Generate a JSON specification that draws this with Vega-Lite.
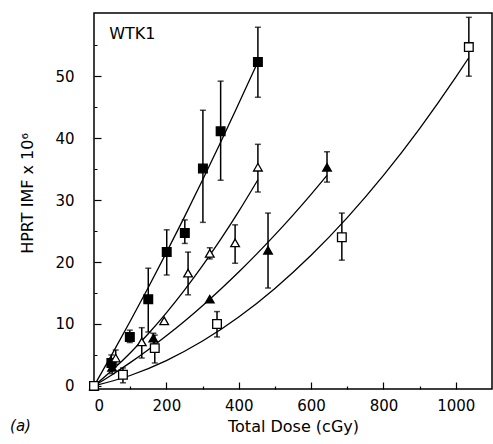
{
  "$schema": "https://vega.github.io/schema/vega-lite/v6.json",
  "width": 398,
  "height": 376,
  "autosize": "none",
  "padding": {"left": 94, "top": 13, "right": 1, "bottom": 55},
  "background": "white",
  "config": {
    "view": {"stroke": "black", "strokeWidth": 1.5},
    "font": "DejaVu Sans",
    "axis": {"grid": false, "domain": false, "labelFont": "DejaVu Sans", "labelFontSize": 15, "labelColor": "black", "tickColor": "black", "tickWidth": 1.2, "titleFont": "DejaVu Sans", "titleFontSize": 16, "titleFontWeight": "normal", "titleColor": "black"}
  },
  "data": {
    "values": [
      {"set": "obs", "series": "fs", "dose": 0, "imf": 0},
      {"set": "obs", "series": "fs", "dose": 48, "imf": 3.7, "lo": 2.5, "hi": 5.0},
      {"set": "obs", "series": "fs", "dose": 99, "imf": 7.9, "lo": 7.0, "hi": 9.0},
      {"set": "obs", "series": "fs", "dose": 150, "imf": 14.0, "lo": 8.7, "hi": 19.0},
      {"set": "obs", "series": "fs", "dose": 201, "imf": 21.6, "lo": 17.9, "hi": 25.2},
      {"set": "obs", "series": "fs", "dose": 251, "imf": 24.7, "lo": 23.0, "hi": 26.8},
      {"set": "obs", "series": "fs", "dose": 301, "imf": 35.1, "lo": 26.4, "hi": 44.5},
      {"set": "obs", "series": "fs", "dose": 350, "imf": 41.1, "lo": 33.2, "hi": 49.2},
      {"set": "obs", "series": "fs", "dose": 453, "imf": 52.3, "lo": 46.6, "hi": 57.9},
      {"set": "obs", "series": "ot", "dose": 0, "imf": 0},
      {"set": "obs", "series": "ot", "dose": 60, "imf": 4.5, "lo": 3.5, "hi": 5.8},
      {"set": "obs", "series": "ot", "dose": 132, "imf": 7.1, "lo": 4.5, "hi": 9.4},
      {"set": "obs", "series": "ot", "dose": 194, "imf": 10.5},
      {"set": "obs", "series": "ot", "dose": 260, "imf": 18.2, "lo": 14.7, "hi": 21.6},
      {"set": "obs", "series": "ot", "dose": 320, "imf": 21.4, "lo": 20.5, "hi": 22.3},
      {"set": "obs", "series": "ot", "dose": 390, "imf": 23.1, "lo": 19.8, "hi": 26.0},
      {"set": "obs", "series": "ot", "dose": 453, "imf": 35.3, "lo": 31.3, "hi": 39.0},
      {"set": "obs", "series": "ft", "dose": 0, "imf": 0},
      {"set": "obs", "series": "ft", "dose": 50, "imf": 3.0, "lo": 2.0, "hi": 4.0},
      {"set": "obs", "series": "ft", "dose": 164, "imf": 7.7, "lo": 6.5, "hi": 8.5},
      {"set": "obs", "series": "ft", "dose": 320, "imf": 14.0},
      {"set": "obs", "series": "ft", "dose": 481, "imf": 21.9, "lo": 15.8, "hi": 27.9},
      {"set": "obs", "series": "ft", "dose": 644, "imf": 35.3, "lo": 32.9, "hi": 37.8},
      {"set": "obs", "series": "os", "dose": 0, "imf": 0},
      {"set": "obs", "series": "os", "dose": 80, "imf": 1.8, "lo": 0.5, "hi": 2.9},
      {"set": "obs", "series": "os", "dose": 168, "imf": 6.1, "lo": 3.7, "hi": 8.2},
      {"set": "obs", "series": "os", "dose": 340, "imf": 10.0, "lo": 7.9, "hi": 12.0},
      {"set": "obs", "series": "os", "dose": 685, "imf": 24.0, "lo": 20.3, "hi": 27.9},
      {"set": "obs", "series": "os", "dose": 1036, "imf": 54.7, "lo": 50.0, "hi": 59.5},
      {"set": "fit", "series": "fs", "dose": 0, "imf": 0},
      {"set": "fit", "series": "fs", "dose": 50, "imf": 5.14},
      {"set": "fit", "series": "fs", "dose": 100, "imf": 10.43},
      {"set": "fit", "series": "fs", "dose": 150, "imf": 15.89},
      {"set": "fit", "series": "fs", "dose": 200, "imf": 21.51},
      {"set": "fit", "series": "fs", "dose": 250, "imf": 27.29},
      {"set": "fit", "series": "fs", "dose": 300, "imf": 33.23},
      {"set": "fit", "series": "fs", "dose": 350, "imf": 39.33},
      {"set": "fit", "series": "fs", "dose": 400, "imf": 45.59},
      {"set": "fit", "series": "fs", "dose": 453, "imf": 52.3},
      {"set": "fit", "series": "ot", "dose": 0, "imf": 0},
      {"set": "fit", "series": "ot", "dose": 50, "imf": 2.52},
      {"set": "fit", "series": "ot", "dose": 100, "imf": 5.32},
      {"set": "fit", "series": "ot", "dose": 150, "imf": 8.41},
      {"set": "fit", "series": "ot", "dose": 200, "imf": 11.79},
      {"set": "fit", "series": "ot", "dose": 250, "imf": 15.46},
      {"set": "fit", "series": "ot", "dose": 300, "imf": 19.41},
      {"set": "fit", "series": "ot", "dose": 350, "imf": 23.64},
      {"set": "fit", "series": "ot", "dose": 400, "imf": 28.17},
      {"set": "fit", "series": "ot", "dose": 453, "imf": 33.28},
      {"set": "fit", "series": "ft", "dose": 0, "imf": 0},
      {"set": "fit", "series": "ft", "dose": 50, "imf": 1.81},
      {"set": "fit", "series": "ft", "dose": 100, "imf": 3.76},
      {"set": "fit", "series": "ft", "dose": 150, "imf": 5.85},
      {"set": "fit", "series": "ft", "dose": 200, "imf": 8.08},
      {"set": "fit", "series": "ft", "dose": 250, "imf": 10.44},
      {"set": "fit", "series": "ft", "dose": 300, "imf": 12.95},
      {"set": "fit", "series": "ft", "dose": 350, "imf": 15.6},
      {"set": "fit", "series": "ft", "dose": 400, "imf": 18.38},
      {"set": "fit", "series": "ft", "dose": 450, "imf": 21.31},
      {"set": "fit", "series": "ft", "dose": 500, "imf": 24.38},
      {"set": "fit", "series": "ft", "dose": 550, "imf": 27.58},
      {"set": "fit", "series": "ft", "dose": 600, "imf": 30.92},
      {"set": "fit", "series": "ft", "dose": 644, "imf": 33.98},
      {"set": "fit", "series": "os", "dose": 0, "imf": 0},
      {"set": "fit", "series": "os", "dose": 100, "imf": 1.68},
      {"set": "fit", "series": "os", "dose": 200, "imf": 4.09},
      {"set": "fit", "series": "os", "dose": 300, "imf": 7.24},
      {"set": "fit", "series": "os", "dose": 400, "imf": 11.12},
      {"set": "fit", "series": "os", "dose": 500, "imf": 15.74},
      {"set": "fit", "series": "os", "dose": 600, "imf": 21.09},
      {"set": "fit", "series": "os", "dose": 700, "imf": 27.17},
      {"set": "fit", "series": "os", "dose": 800, "imf": 33.99},
      {"set": "fit", "series": "os", "dose": 900, "imf": 41.55},
      {"set": "fit", "series": "os", "dose": 1000, "imf": 49.84},
      {"set": "fit", "series": "os", "dose": 1036, "imf": 53.0},
      {"set": "label", "text": "WTK1", "dose": 42, "imf": 56.8},
      {"set": "label2", "text": "(a)", "dose": -232, "imf": -6.4}
    ]
  },
  "encoding": {
    "x": {
      "field": "dose", "type": "quantitative",
      "scale": {"domain": [0, 1100], "nice": false, "zero": false},
      "axis": {
        "title": "Total Dose (cGy)",
        "values": [0, 100, 200, 300, 400, 500, 600, 700, 800, 900, 1000],
        "format": "d",
        "labelExpr": "datum.value % 200 == 0 ? datum.label : ''",
        "offset": -7,
        "tickSize": 7,
        "tickDash": {"condition": {"test": "datum.value % 200 == 0", "value": [7, 0]}, "value": [0, 4, 3, 0]},
        "labelPadding": 9,
        "titlePadding": 5
      }
    },
    "y": {
      "field": "imf", "type": "quantitative",
      "scale": {"domain": [-0.5, 60.2], "nice": false, "zero": false},
      "axis": {
        "title": "HPRT IMF x 10⁶",
        "values": [0, 5, 10, 15, 20, 25, 30, 35, 40, 45, 50, 55],
        "labelExpr": "datum.value % 10 == 0 ? datum.label : ''",
        "offset": -7,
        "tickSize": 7,
        "tickDash": {"condition": {"test": "datum.value % 10 == 0", "value": [7, 0]}, "value": [0, 4, 3, 0]},
        "labelPadding": 20,
        "titleX": -74,
        "titleY": 180,
        "titleAngle": 270,
        "titleAlign": "center",
        "titleBaseline": "middle"
      }
    }
  },
  "layer": [
    {
      "transform": [{"filter": "datum.set == 'fit'"}],
      "mark": {"type": "line", "color": "black", "strokeWidth": 1.3, "interpolate": "monotone", "clip": false},
      "encoding": {"detail": {"field": "series"}}
    },
    {
      "transform": [{"filter": "datum.set == 'obs' && datum.lo != null"}],
      "mark": {"type": "errorbar", "color": "black", "thickness": 1.5, "ticks": {"size": 6, "thickness": 1.5, "color": "black"}},
      "encoding": {
        "y": {
          "field": "lo", "type": "quantitative",
          "scale": {"domain": [-0.5, 60.2], "nice": false, "zero": false},
          "axis": {
            "title": "HPRT IMF x 10⁶",
            "values": [0, 5, 10, 15, 20, 25, 30, 35, 40, 45, 50, 55],
            "labelExpr": "datum.value % 10 == 0 ? datum.label : ''",
            "offset": -7,
            "tickSize": 7,
            "tickDash": {"condition": {"test": "datum.value % 10 == 0", "value": [7, 0]}, "value": [0, 4, 3, 0]},
            "labelPadding": 20,
            "titleX": -74,
            "titleY": 180,
            "titleAngle": 270,
            "titleAlign": "center",
            "titleBaseline": "middle"
          }
        },
        "y2": {"field": "hi"}
      }
    },
    {
      "transform": [{"filter": "datum.set == 'obs'"}],
      "mark": {"type": "point", "filled": true, "stroke": "black", "strokeWidth": 1.3, "opacity": 1, "size": 75},
      "encoding": {
        "shape": {"field": "series", "type": "nominal", "scale": {"domain": ["fs", "ot", "ft", "os"], "range": ["square", "triangle-up", "triangle-up", "square"]}, "legend": null},
        "fill": {"field": "series", "type": "nominal", "scale": {"domain": ["fs", "ot", "ft", "os"], "range": ["black", "white", "black", "white"]}, "legend": null}
      }
    },
    {
      "transform": [{"filter": "datum.set == 'label'"}],
      "mark": {"type": "text", "align": "left", "baseline": "middle", "fontSize": 16, "font": "DejaVu Sans", "color": "black"},
      "encoding": {"text": {"field": "text"}}
    },
    {
      "transform": [{"filter": "datum.set == 'label2'"}],
      "mark": {"type": "text", "align": "left", "baseline": "middle", "fontSize": 15, "fontStyle": "italic", "font": "DejaVu Sans", "color": "black", "clip": false},
      "encoding": {"text": {"field": "text"}}
    }
  ]
}
